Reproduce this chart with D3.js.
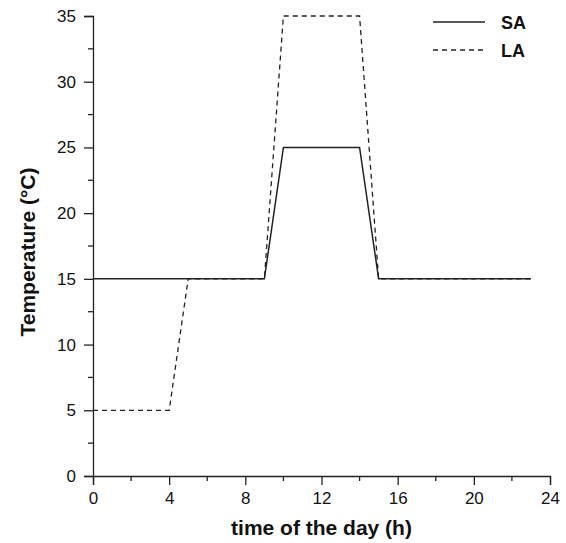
<!DOCTYPE html>
<html>
<head>
<meta charset="utf-8">
<script src="https://cdn.jsdelivr.net/npm/d3@7"></script>
<style>
  body { margin: 0; background: #fff; }
  text { font-family: "Liberation Sans", Arial, sans-serif; fill: #111; }
</style>
</head>
<body>
<div id="chart"></div>
<script>
// data
var hoursSA = [0, 9, 10, 14, 15, 23];
var tempSA = [15, 15, 25, 25, 15, 15];
var hoursLA = [0, 4, 5, 9, 10, 14, 15, 23];
var tempLA = [5, 5, 15, 15, 35, 35, 15, 15];
var xTicks = [0, 4, 8, 12, 16, 20, 24];
var yTicks = [0, 5, 10, 15, 20, 25, 30, 35];
var seriesNames = ['SA', 'LA'];

var width = 566, height = 543;
var margin = { left: 93, right: 16, top: 16, bottom: 67 };

var svg = d3.select('#chart').append('svg')
    .attr('width', width)
    .attr('height', height);

var x = d3.scaleLinear().domain([0, 24]).range([margin.left, width - margin.right]);
var y = d3.scaleLinear().domain([0, 35]).range([height - margin.bottom, margin.top]);

var ink = '#222';

// minor ticks (half steps)
var xMinor = d3.range(2, 24, 4);
var yMinor = d3.range(2.5, 35, 5);

var gx = svg.append('g')
    .attr('transform', 'translate(0,' + y(0) + ')')
    .call(d3.axisBottom(x).tickValues(xTicks).tickSize(9).tickPadding(7).tickFormat(d3.format('d')));
gx.append('g').selectAll('line').data(xMinor).enter().append('line')
    .attr('x1', function (d) { return x(d); })
    .attr('x2', function (d) { return x(d); })
    .attr('y1', 0).attr('y2', 5);

var gy = svg.append('g')
    .attr('transform', 'translate(' + x(0) + ',0)')
    .call(d3.axisLeft(y).tickValues(yTicks).tickSize(9).tickPadding(8).tickFormat(d3.format('d')));
gy.append('g').selectAll('line').data(yMinor).enter().append('line')
    .attr('y1', function (d) { return y(d); })
    .attr('y2', function (d) { return y(d); })
    .attr('x1', 0).attr('x2', -5);

svg.selectAll('.domain').attr('stroke', ink).attr('stroke-width', 1.3);
svg.selectAll('g line').attr('stroke', ink).attr('stroke-width', 1.3);
svg.selectAll('.tick text')
    .style('font-family', '"Liberation Sans", Arial, sans-serif')
    .style('font-size', '17px')
    .attr('fill', '#111');

var line = d3.line()
    .x(function (d) { return x(d[0]); })
    .y(function (d) { return y(d[1]); });

var saPts = d3.zip(hoursSA, tempSA);
var laPts = d3.zip(hoursLA, tempLA);

svg.append('path')
    .datum(laPts)
    .attr('d', line)
    .attr('fill', 'none')
    .attr('stroke', ink)
    .attr('stroke-width', 1.3)
    .attr('stroke-dasharray', '5,4');

svg.append('path')
    .datum(saPts)
    .attr('d', line)
    .attr('fill', 'none')
    .attr('stroke', ink)
    .attr('stroke-width', 1.5);

// legend
var lg = svg.append('g').attr('transform', 'translate(433,22)');
var legendRows = lg.selectAll('g').data(seriesNames).enter().append('g')
    .attr('transform', function (d, i) { return 'translate(0,' + (i * 28) + ')'; });
legendRows.append('line')
    .attr('x1', 0).attr('x2', 52)
    .attr('y1', 0).attr('y2', 0)
    .attr('stroke', ink)
    .attr('stroke-width', 1.4)
    .attr('stroke-dasharray', function (d, i) { return i === 1 ? '5,4' : null; });
legendRows.append('text')
    .attr('x', 68)
    .attr('y', 7)
    .style('font-size', '18px')
    .style('font-weight', 'bold')
    .text(function (d) { return d; });

// axis titles
svg.append('text')
    .attr('x', (x(0) + x(24)) / 2)
    .attr('y', 535)
    .attr('text-anchor', 'middle')
    .style('font-size', '21px')
    .style('font-weight', 'bold')
    .text('time of the day (h)');

svg.append('text')
    .attr('transform', 'translate(35,252) rotate(-90)')
    .attr('text-anchor', 'middle')
    .style('font-size', '21px')
    .style('font-weight', 'bold')
    .text('Temperature (°C)');
</script>
</body>
</html>
